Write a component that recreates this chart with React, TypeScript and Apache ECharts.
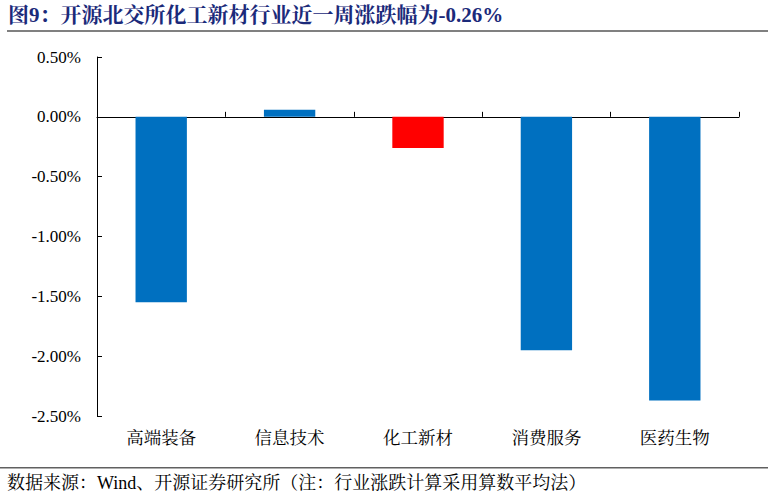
import React, { useEffect, useRef } from "react";
import * as echarts from "echarts";

const categories = ["高端装备", "信息技术", "化工新材", "消费服务", "医药生物"];
const values = [-1.55, 0.06, -0.26, -1.95, -2.37];
const highlightIndex = 2;
const titleText = "图9：开源北交所化工新材行业近一周涨跌幅为-0.26%";
const sourceText = "数据来源：Wind、开源证券研究所（注：行业涨跌计算采用算数平均法）";

export default function App() {
  const ref = useRef<HTMLDivElement>(null);
  useEffect(() => {
    if (!ref.current) return;
    const chart = echarts.init(ref.current, undefined, { renderer: "svg" });
    const serif = "'Liberation Serif', 'Noto Serif CJK SC', 'Noto Sans CJK SC', serif";
    chart.setOption({
      animation: false,
      backgroundColor: "#fff",
      grid: { left: 97, right: 35, top: 57, bottom: 83, containLabel: false },
      xAxis: [
        {
          type: "category",
          data: categories,
          position: "bottom",
          axisLine: { show: false, onZero: false },
          axisTick: { show: false },
          axisLabel: { color: "#000", fontSize: 17.5, fontFamily: serif, margin: 13 },
        },
        {
          type: "category",
          data: categories,
          position: "bottom",
          axisLine: { show: true, onZero: true, lineStyle: { color: "#000", width: 1 } },
          axisTick: { show: true, inside: true, length: 5, lineStyle: { color: "#000" } },
          axisLabel: { show: false },
        },
      ],
      yAxis: {
        type: "value",
        min: -2.5,
        max: 0.5,
        interval: 0.5,
        axisLine: { show: true, lineStyle: { color: "#000", width: 1 } },
        axisTick: { show: true, inside: true, length: 5, lineStyle: { color: "#000" } },
        splitLine: { show: false },
        axisLabel: {
          color: "#000",
          fontSize: 17,
          fontFamily: serif,
          margin: 16,
          formatter: (v: number) => v.toFixed(2) + "%",
        },
      },
      series: [
        {
          type: "bar",
          xAxisIndex: 0,
          barWidth: "40%",
          data: values.map((v, i) => ({
            value: v,
            itemStyle: { color: i === highlightIndex ? "#FF0000" : "#0070C0" },
          })),
        },
      ],
      graphic: [
        {
          type: "text",
          left: 8,
          top: 4,
          style: {
            text: titleText,
            fill: "#1B2A7A",
            fontSize: 21,
            fontWeight: "bold",
            fontFamily: serif,
          },
        },
        {
          type: "rect",
          shape: { x: 7, y: 30, width: 761, height: 2 },
          style: { fill: "#808080" },
        },
        {
          type: "rect",
          shape: { x: 0, y: 467, width: 768, height: 1.5 },
          style: { fill: "#606060" },
        },
        {
          type: "text",
          left: 7,
          top: 474,
          style: {
            text: sourceText,
            fill: "#000",
            fontSize: 18,
            fontFamily: serif,
          },
        },
      ],
    });
    return () => chart.dispose();
  }, []);
  return (
    <div
      ref={ref}
      style={{ position: "fixed", left: 0, top: 0, width: 774, height: 499 }}
    />
  );
}
